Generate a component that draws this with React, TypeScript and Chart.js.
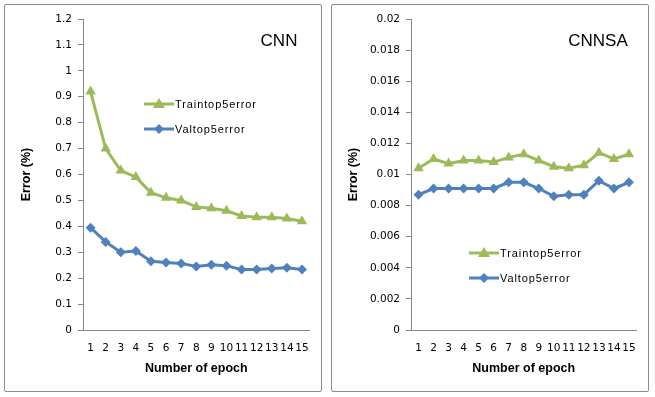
import React, { useEffect, useRef } from "react";
import { Chart, registerables } from "chart.js";

Chart.register(...registerables);

const epochs = ["1", "2", "3", "4", "5", "6", "7", "8", "9", "10", "11", "12", "13", "14", "15"];

const cnnTrain = [0.92, 0.70, 0.615, 0.59, 0.53, 0.51, 0.50, 0.475, 0.47, 0.46, 0.44, 0.435, 0.435, 0.43, 0.42];
const cnnVal = [0.395, 0.34, 0.30, 0.305, 0.265, 0.26, 0.257, 0.245, 0.252, 0.248, 0.233, 0.233, 0.237, 0.24, 0.233];

const cnnsaTrain = [0.0104, 0.0110, 0.0107, 0.0109, 0.0109, 0.0108, 0.0111, 0.0113, 0.0109, 0.0105, 0.0104, 0.0106, 0.0114, 0.0110, 0.0113];
const cnnsaVal = [0.0087, 0.0091, 0.0091, 0.0091, 0.0091, 0.0091, 0.0095, 0.0095, 0.0091, 0.0086, 0.0087, 0.0087, 0.0096, 0.0091, 0.0095];

const cnnTicks = [0, 0.1, 0.2, 0.3, 0.4, 0.5, 0.6, 0.7, 0.8, 0.9, 1, 1.1, 1.2];
const cnnsaTicks = [0, 0.002, 0.004, 0.006, 0.008, 0.01, 0.012, 0.014, 0.016, 0.018, 0.02];

const seriesNames = ["Traintop5error", "Valtop5error"];
const GREEN = "#9BBB59";
const BLUE = "#4F81BD";
const AXIS = "#868686";
const FONT = "'Liberation Sans', Arial, sans-serif";
const TICKFONT = "'DejaVu Sans', Verdana, sans-serif";

type PanelProps = {
  title: string;
  train: number[];
  val: number[];
  ticks: number[];
  legendX: number;
  legendY: number;
  titleX: number;
  yWidth: number;
  rightPad: number;
};

const overlayPlugin = {
  id: "overlay",
  afterDatasetsDraw(chart: any, _args: any, opts: any) {
    const ctx = chart.ctx;
    ctx.save();
    ctx.font = `17px ${FONT}`;
    ctx.fillStyle = "#000";
    ctx.textAlign = "center";
    ctx.textBaseline = "middle";
    ctx.fillText(opts.title, opts.titleX, 36);
    const items = [
      { name: seriesNames[0], color: GREEN, style: "triangle" },
      { name: seriesNames[1], color: BLUE, style: "diamond" },
    ];
    items.forEach((it, i) => {
      const y = opts.legendY + i * 25;
      const x0 = opts.legendX;
      const x1 = x0 + 30;
      ctx.strokeStyle = it.color;
      ctx.lineWidth = 3;
      ctx.beginPath();
      ctx.moveTo(x0, y);
      ctx.lineTo(x1, y);
      ctx.stroke();
      ctx.fillStyle = it.color;
      const cx = (x0 + x1) / 2;
      ctx.beginPath();
      if (it.style === "triangle") {
        ctx.moveTo(cx, y - 6);
        ctx.lineTo(cx + 6, y + 4);
        ctx.lineTo(cx - 6, y + 4);
      } else {
        ctx.moveTo(cx, y - 5);
        ctx.lineTo(cx + 5, y);
        ctx.lineTo(cx, y + 5);
        ctx.lineTo(cx - 5, y);
      }
      ctx.closePath();
      ctx.fill();
      ctx.fillStyle = "#000";
      ctx.font = `11px ${FONT}`;
      (ctx as any).letterSpacing = "0.9px";
      ctx.textAlign = "left";
      ctx.textBaseline = "middle";
      ctx.fillText(it.name, x1 + 1, y + 1);
      (ctx as any).letterSpacing = "0px";
    });
    ctx.restore();
  },
};

function Panel(props: PanelProps) {
  const ref = useRef<HTMLCanvasElement>(null);
  useEffect(() => {
    if (!ref.current) return;
    const chart = new Chart(ref.current, {
      type: "line",
      data: {
        labels: epochs,
        datasets: [
          {
            label: seriesNames[0],
            data: props.train,
            borderColor: GREEN,
            backgroundColor: GREEN,
            borderWidth: 3,
            pointStyle: "triangle",
            pointRadius: 6,
            pointBorderWidth: 0,
            tension: 0,
          },
          {
            label: seriesNames[1],
            data: props.val,
            borderColor: BLUE,
            backgroundColor: BLUE,
            borderWidth: 3,
            pointStyle: "rectRot",
            pointRadius: 5,
            pointBorderWidth: 0,
            tension: 0,
          },
        ],
      },
      options: {
        responsive: false,
        animation: false,
        maintainAspectRatio: false,
        layout: { padding: { top: 14, right: props.rightPad, bottom: 0, left: 0 } },
        plugins: {
          legend: { display: false },
          tooltip: { enabled: false },
          overlay: {
            title: props.title,
            titleX: props.titleX,
            legendX: props.legendX,
            legendY: props.legendY,
          },
        } as any,
        scales: {
          x: {
            type: "category",
            offset: true,
            grid: { display: true, drawOnChartArea: false, drawTicks: false, color: AXIS },
            border: { display: true, color: AXIS, width: 1 },
            ticks: {
              autoSkip: false,
              maxRotation: 0,
              minRotation: 0,
              padding: 12,
              color: "#000",
              font: { family: TICKFONT, size: 10.5 },
            },
            title: {
              display: true,
              text: "Number of epoch",
              color: "#000",
              font: { family: FONT, size: 12.5, weight: "bold" },
              padding: { top: 0, bottom: 15 },
            },
            afterFit: (s: any) => {
              s.height = 61;
            },
          },
          y: {
            min: props.ticks[0],
            max: props.ticks[props.ticks.length - 1],
            grid: { display: true, drawOnChartArea: false, drawTicks: true, tickLength: 5, color: AXIS },
            border: { display: true, color: AXIS, width: 1 },
            ticks: {
              padding: 6,
              color: "#000",
              font: { family: TICKFONT, size: 10.5 },
              callback: (v: any) => String(Number(Number(v).toFixed(4))),
            },
            afterBuildTicks: (s: any) => {
              s.ticks = props.ticks.map((v) => ({ value: v }));
            },
            title: {
              display: true,
              text: "Error (%)",
              color: "#000",
              font: { family: FONT, size: 12.5, weight: "bold" },
              padding: { top: 14, bottom: 0 },
            },
            afterFit: (s: any) => {
              s.width = props.yWidth;
            },
          },
        },
      },
      plugins: [overlayPlugin],
    });
    return () => chart.destroy();
  }, []);
  return <canvas ref={ref} width={316} height={386} style={{ display: "block", width: 316, height: 386 }} />;
}

export default function App() {
  const box: React.CSSProperties = {
    position: "absolute",
    top: 4,
    width: 316,
    height: 386,
    border: "1px solid #8c8c8c",
    borderRadius: 2,
    background: "#fff",
  };
  return (
    <div style={{ position: "fixed", left: 0, top: 0, width: 655, height: 397, background: "#fff" }}>
      <div style={{ ...box, left: 4 }}>
        <Panel title="CNN" train={cnnTrain} val={cnnVal} ticks={cnnTicks} legendX={139} legendY={99} titleX={274} yWidth={78} rightPad={10} />
      </div>
      <div style={{ ...box, left: 331 }}>
        <Panel title="CNNSA" train={cnnsaTrain} val={cnnsaVal} ticks={cnnsaTicks} legendX={137} legendY={248} titleX={266} yWidth={79} rightPad={11} />
      </div>
    </div>
  );
}
